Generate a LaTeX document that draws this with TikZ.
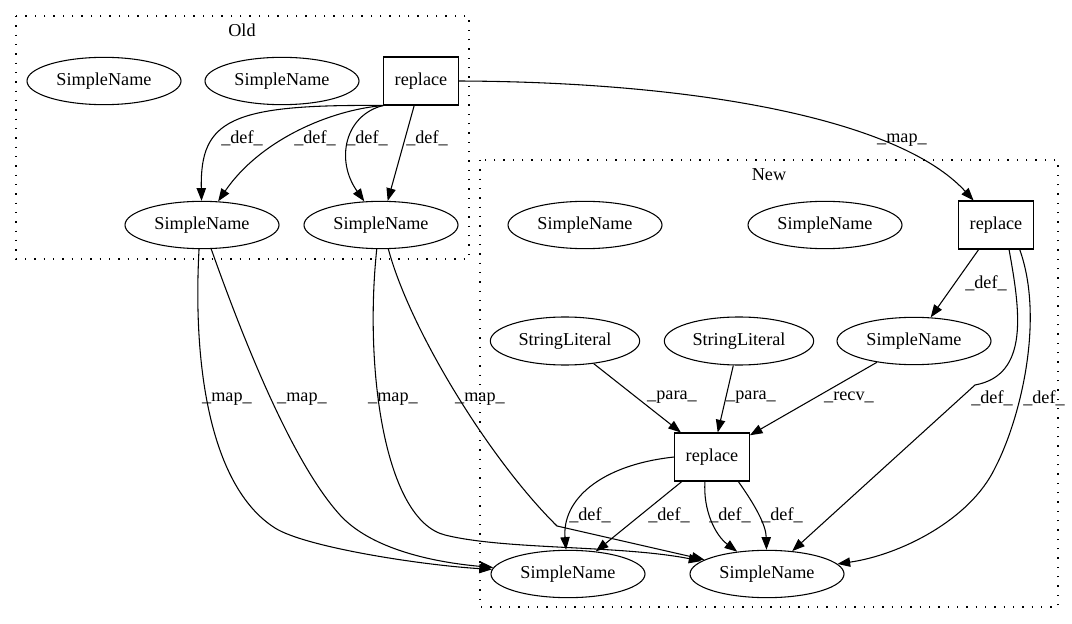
\documentclass[tikz,border=0pt]{standalone}
\usepackage{fontspec}
\setmainfont{Liberation Serif}
\usetikzlibrary{shapes.geometric,arrows.meta}

\begin{document}
\begin{tikzpicture}[x=0.75pt, y=-0.75pt,
    font=\fontsize{13.65}{16}\selectfont,
    >={Triangle[length=9.5pt,width=7pt]},
    line width=0.8pt,
    sname/.style={ellipse, draw, inner sep=0pt, minimum width=115.5pt, minimum height=35.5pt},
    slit/.style={ellipse, draw, inner sep=0pt, minimum width=112pt, minimum height=36pt},
    opbox/.style={rectangle, draw, inner sep=0pt, minimum width=56pt, minimum height=36pt},
    cluster/.style={line width=1pt, dash pattern=on 1pt off 6pt},
    lbl/.style={inner sep=0pt}
  ]
  \useasboundingbox (0,0) rectangle (1072,624);

  % Clusters
  \draw[cluster] (16,16) rectangle (469,259);
  \draw[cluster] (480,160) rectangle (1058,607);
  \node[lbl] (old) at (242,30) {Old};
  \node[lbl] (new) at (769,175) {New};

  % Define nodes
  \node[sname] (o1) at (104,81) {SimpleName};
  \node[sname] (o2) at (282,81) {SimpleName};
  \node[opbox] (oR) at (421,81) {replace};
  \node[sname] (o3) at (202,225) {SimpleName};
  \node[sname] (o4) at (381,225) {SimpleName};

  \node[sname] (n1) at (585,225) {SimpleName};
  \node[sname] (n2) at (825,225) {SimpleName};
  \node[opbox] (nR) at (996,225) {replace};
  \node[slit] (s1) at (565,341) {StringLiteral};
  \node[slit] (s2) at (739,341) {StringLiteral};
  \node[sname] (n3) at (914,341) {SimpleName};
  \node[opbox] (mR) at (712,457) {replace};
  \node[sname] (b1) at (568,574) {SimpleName};
  \node[sname] (b2) at (767,574) {SimpleName};

  % Draw edges
  % Old
  \draw[->] (oR.south west) .. controls (230,104) and (200,120) .. (o3);
  \draw[->] (oR.south west) .. controls (330,110) and (260,140) .. (o3);
  \draw[->] (oR.south west) .. controls (345,115) and (335,160) .. (o4);
  \draw[->] (oR) -- (o4);
  \draw[->] (oR.east) .. controls (700,82) and (900,120) .. (nR);

  % New
  \draw[->] (nR) -- (n3);
  \draw[->] (nR.-62) .. controls (1020,310) and (1030,375) .. (975,385) -- (b2);
  \draw[->] (nR.-46) .. controls (1045,320) and (1020,420) .. (995,468)
    .. controls (970,520) and (900,555) .. (b2);
  \draw[->] (s1) -- (mR);
  \draw[->] (s2) -- (mR);
  \draw[->] (n3) -- (mR);
  \draw[->] (mR.west) .. controls (600,465) and (562,500) .. (b1);
  \draw[->] (mR) -- (b1);
  \draw[->] (mR.-106) .. controls (703,510) and (715,535) .. (b2);
  \draw[->] (mR.-43) .. controls (755,505) and (766,525) .. (b2);

  % Old -> New mapping
  \draw[->] (o3.-97) .. controls (192,380) and (215,490) .. (275,528)
    .. controls (305,547) and (420,565) .. (b1);
  \draw[->] (o3.-69) .. controls (240,330) and (290,460) .. (340,515)
    .. controls (370,548) and (430,562) .. (b1);
  \draw[->] (o4.-100) .. controls (364,370) and (385,520) .. (445,535)
    .. controls (505,550) and (620,545) .. (b2);
  \draw[->] (o4.-73) .. controls (410,330) and (490,460) .. (557,526) -- (b2);

  % Edge labels
  \foreach \x/\y [count=\i] in {242/138, 315/138, 367/138, 427/138, 986/283,
      992/398, 1044/398, 590/515, 669/515, 730/515, 782/515}
    \node[lbl] (def\i) at (\x,\y) {\_def\_};
  \foreach \x/\y [count=\i] in {902/140, 227/399, 302/399, 393/399, 480/399}
    \node[lbl] (map\i) at (\x,\y) {\_map\_};
  \node[lbl] (para1) at (672,397) {\_para\_};
  \node[lbl] (para2) at (751,397) {\_para\_};
  \node[lbl] (recv) at (849,397) {\_recv\_};

\end{tikzpicture}
\end{document}
